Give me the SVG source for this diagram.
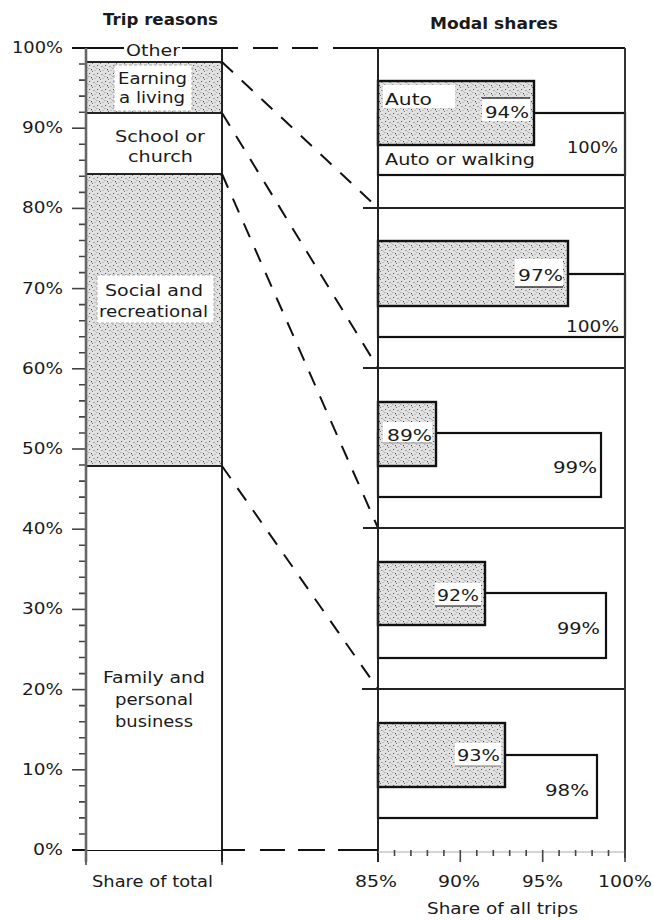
<svg xmlns="http://www.w3.org/2000/svg" width="654" height="920" viewBox="0 0 654 920">
<defs>
<pattern id="stip" width="8" height="8" patternUnits="userSpaceOnUse">
<rect width="8" height="8" fill="#e2e2e2"/>
<rect x="1" y="1" width="1.2" height="1" fill="#555"/>
<rect x="5" y="2" width="1.6" height="1" fill="#999"/>
<rect x="3" y="5" width="1" height="1.2" fill="#444"/>
<rect x="6.5" y="6" width="1" height="1" fill="#999"/>
<rect x="0" y="4" width="1.6" height="1" fill="#a8a8a8"/>
<rect x="4" y="7" width="1" height="1" fill="#777"/>
<rect x="7" y="3" width="1" height="1" fill="#bbb"/>
</pattern>
<style>
text{font-family:"DejaVu Sans","Liberation Sans",sans-serif;font-size:16px;fill:#1a1a1a}
.h{font-weight:bold;font-size:16px}
.ax{stroke:#333;stroke-width:2;fill:none}
.tk{stroke:#444;stroke-width:1.6}
.sep{stroke:#222;stroke-width:2}
.bar{fill:#fff;stroke:#111;stroke-width:2.2}
.sbar{fill:url(#stip);stroke:#111;stroke-width:2.4}
.lbl{fill:#fff;stroke:none}
.lblb{fill:#fff;stroke:#aaa;stroke-width:1;stroke-dasharray:3 2}
.dash{stroke:#111;stroke-width:2;stroke-dasharray:15 12;fill:none}
.hd{stroke:#111;stroke-width:2}
</style>
</defs>
<rect width="654" height="920" fill="#fff"/>

<text class="h" x="103" y="25" textLength="115" lengthAdjust="spacingAndGlyphs">Trip reasons</text>
<text class="h" x="430" y="29" textLength="128" lengthAdjust="spacingAndGlyphs">Modal shares</text>

<g id="left-axis">
<line class="tk" x1="72" y1="48" x2="86" y2="48"/>
<line class="tk" x1="72" y1="128.2" x2="86" y2="128.2"/>
<line class="tk" x1="72" y1="208.4" x2="86" y2="208.4"/>
<line class="tk" x1="72" y1="288.6" x2="86" y2="288.6"/>
<line class="tk" x1="72" y1="368.8" x2="86" y2="368.8"/>
<line class="tk" x1="72" y1="449" x2="86" y2="449"/>
<line class="tk" x1="72" y1="529.2" x2="86" y2="529.2"/>
<line class="tk" x1="72" y1="609.4" x2="86" y2="609.4"/>
<line class="tk" x1="72" y1="689.6" x2="86" y2="689.6"/>
<line class="tk" x1="72" y1="769.8" x2="86" y2="769.8"/>
<path class="tk" d="M79 64H86M79 80.1H86M79 96.1H86M79 112.2H86M79 144.2H86M79 160.3H86M79 176.3H86M79 192.4H86M79 224.4H86M79 240.5H86M79 256.5H86M79 272.6H86M79 304.6H86M79 320.7H86M79 336.7H86M79 352.8H86M79 384.8H86M79 400.9H86M79 416.9H86M79 433H86M79 465H86M79 481.1H86M79 497.1H86M79 513.2H86M79 545.2H86M79 561.3H86M79 577.3H86M79 593.4H86M79 625.4H86M79 641.5H86M79 657.5H86M79 673.6H86M79 705.6H86M79 721.7H86M79 737.7H86M79 753.8H86M79 785.8H86M79 801.9H86M79 817.9H86M79 834H86"/>
<text x="12" y="53" textLength="51" lengthAdjust="spacingAndGlyphs">100%</text>
<text x="22" y="133.2" textLength="41" lengthAdjust="spacingAndGlyphs">90%</text>
<text x="22" y="213.4" textLength="41" lengthAdjust="spacingAndGlyphs">80%</text>
<text x="22" y="293.6" textLength="41" lengthAdjust="spacingAndGlyphs">70%</text>
<text x="22" y="373.8" textLength="41" lengthAdjust="spacingAndGlyphs">60%</text>
<text x="22" y="454" textLength="41" lengthAdjust="spacingAndGlyphs">50%</text>
<text x="22" y="534.2" textLength="41" lengthAdjust="spacingAndGlyphs">40%</text>
<text x="22" y="614.4" textLength="41" lengthAdjust="spacingAndGlyphs">30%</text>
<text x="22" y="694.6" textLength="41" lengthAdjust="spacingAndGlyphs">20%</text>
<text x="22" y="774.8" textLength="41" lengthAdjust="spacingAndGlyphs">10%</text>
<text x="33" y="855" textLength="30" lengthAdjust="spacingAndGlyphs">0%</text>
<line class="hd" x1="72" y1="850" x2="222" y2="850"/>
<line class="tk" x1="86" y1="850" x2="86" y2="865"/>
<line class="tk" x1="222" y1="850" x2="222" y2="865"/>
<text x="92" y="887" textLength="121" lengthAdjust="spacingAndGlyphs">Share of total</text>
</g>

<g id="seg-family">
<rect x="86" y="466" width="136" height="384" fill="#fff"/>
<text x="103" y="683" textLength="102" lengthAdjust="spacingAndGlyphs">Family and</text>
<text x="115" y="705" textLength="78" lengthAdjust="spacingAndGlyphs">personal</text>
<text x="115" y="727" textLength="78" lengthAdjust="spacingAndGlyphs">business</text>
</g>
<g id="seg-social">
<rect x="86" y="174" width="136" height="292" fill="url(#stip)"/>
<rect class="lblb" x="97" y="275" width="117" height="48"/>
<text x="105" y="296" textLength="98" lengthAdjust="spacingAndGlyphs">Social and</text>
<text x="99" y="317" textLength="109" lengthAdjust="spacingAndGlyphs">recreational</text>
</g>
<g id="seg-school">
<rect x="86" y="113" width="136" height="61" fill="#fff"/>
<text x="115" y="142" textLength="90" lengthAdjust="spacingAndGlyphs">School or</text>
<text x="128" y="162" textLength="65" lengthAdjust="spacingAndGlyphs">church</text>
</g>
<g id="seg-earning">
<rect x="86" y="62" width="136" height="51" fill="url(#stip)"/>
<rect class="lblb" x="114" y="65" width="78" height="46"/>
<text x="118" y="84" textLength="69" lengthAdjust="spacingAndGlyphs">Earning</text>
<text x="119" y="103" textLength="66" lengthAdjust="spacingAndGlyphs">a living</text>
</g>
<g id="seg-other">
<rect x="86" y="48" width="136" height="14" fill="#fff"/>
<line class="hd" x1="72" y1="48" x2="238" y2="48"/>
<rect class="lbl" x="124" y="41" width="58" height="18"/>
<text x="126" y="56" textLength="54" lengthAdjust="spacingAndGlyphs">Other</text>
</g>
<g id="left-frame">
<path class="sep" d="M86 62H222M86 113H222M86 174H222M86 466H222"/>
<line x1="86" y1="48" x2="86" y2="862" stroke="#666" stroke-width="2.6"/>
<line x1="222" y1="48" x2="222" y2="862" stroke="#222" stroke-width="2"/>
</g>

<g id="connectors">
<line class="dash" x1="222" y1="62" x2="378" y2="208"/>
<line class="dash" x1="222" y1="113" x2="378" y2="368"/>
<line class="dash" x1="222" y1="174" x2="378" y2="528"/>
<line class="dash" x1="222" y1="466" x2="378" y2="689"/>
<path class="hd" d="M253 48H278M292 48H318M333 48H378"/>
<path class="hd" d="M222 850H245M260 850H285M298 850H325M338 850H378"/>
</g>

<g id="sec1">
<rect class="bar" x="378" y="113" width="247" height="62"/>
<rect class="sbar" x="378" y="81" width="156" height="64"/>
<rect class="lbl" x="383" y="85" width="72" height="23"/>
<text x="385" y="105" textLength="47" lengthAdjust="spacingAndGlyphs">Auto</text>
<rect class="lbl" x="482" y="98" width="48" height="23"/>
<line x1="482" y1="98" x2="530" y2="98" stroke="#333" stroke-width="1.5"/>
<text x="485" y="118" textLength="44" lengthAdjust="spacingAndGlyphs">94%</text>
<text x="567" y="153" textLength="51" lengthAdjust="spacingAndGlyphs">100%</text>
<text x="385" y="165" textLength="150" lengthAdjust="spacingAndGlyphs">Auto or walking</text>
</g>
<g id="sec2">
<rect class="bar" x="378" y="274" width="247" height="63"/>
<rect class="sbar" x="378" y="241" width="190" height="65"/>
<rect class="lbl" x="515" y="259" width="48" height="28"/>
<line x1="515" y1="287" x2="563" y2="287" stroke="#333" stroke-width="1.5"/>
<text x="518" y="281" textLength="45" lengthAdjust="spacingAndGlyphs">97%</text>
<text x="566" y="332" textLength="53" lengthAdjust="spacingAndGlyphs">100%</text>
</g>
<g id="sec3">
<rect class="bar" x="378" y="433" width="223" height="64"/>
<rect class="sbar" x="378" y="402" width="58" height="64"/>
<rect class="lbl" x="383" y="422" width="49" height="20"/>
<line x1="383" y1="443" x2="432" y2="443" stroke="#999" stroke-width="1.2"/>
<text x="387" y="441" textLength="45" lengthAdjust="spacingAndGlyphs">89%</text>
<text x="553" y="473" textLength="44" lengthAdjust="spacingAndGlyphs">99%</text>
</g>
<g id="sec4">
<rect class="bar" x="378" y="593" width="228" height="65"/>
<rect class="sbar" x="378" y="562" width="107" height="63"/>
<rect class="lbl" x="435" y="583" width="46" height="23"/>
<line x1="435" y1="606" x2="481" y2="606" stroke="#555" stroke-width="1.3"/>
<text x="437" y="601" textLength="42" lengthAdjust="spacingAndGlyphs">92%</text>
<text x="557" y="634" textLength="43" lengthAdjust="spacingAndGlyphs">99%</text>
</g>
<g id="sec5">
<rect class="bar" x="378" y="755" width="219" height="63"/>
<rect class="sbar" x="378" y="723" width="127" height="64"/>
<rect class="lbl" x="455" y="743" width="46" height="23"/>
<line x1="455" y1="766" x2="501" y2="766" stroke="#777" stroke-width="1.2"/>
<text x="457" y="761" textLength="43" lengthAdjust="spacingAndGlyphs">93%</text>
<text x="545" y="796" textLength="44" lengthAdjust="spacingAndGlyphs">98%</text>
</g>

<g id="right-frame">
<line class="hd" x1="378" y1="48" x2="625" y2="48"/>
<path class="sep" d="M363 208H625M363 368H625M363 528H625M362 689H625"/>
<line x1="378" y1="48" x2="378" y2="862" stroke="#222" stroke-width="2"/>
<line x1="625" y1="48" x2="625" y2="858" stroke="#333" stroke-width="2"/>
<line x1="378" y1="852" x2="625" y2="852" stroke="#aaa" stroke-width="1"/>
<path class="tk" d="M394.5 850V856M410.9 850V856M427.4 850V856M443.9 850V856M476.8 850V856M493.3 850V856M509.7 850V856M526.2 850V856M559.1 850V856M575.6 850V856M592.1 850V856M608.5 850V856"/>
<path class="tk" d="M460.3 850V862M542.7 850V862M625 850V862"/>
<text x="355" y="887" textLength="42" lengthAdjust="spacingAndGlyphs">85%</text>
<text x="438" y="887" textLength="42" lengthAdjust="spacingAndGlyphs">90%</text>
<text x="522" y="887" textLength="41" lengthAdjust="spacingAndGlyphs">95%</text>
<text x="598" y="887" textLength="54" lengthAdjust="spacingAndGlyphs">100%</text>
<text x="427" y="914" textLength="151" lengthAdjust="spacingAndGlyphs">Share of all trips</text>
</g>
</svg>
